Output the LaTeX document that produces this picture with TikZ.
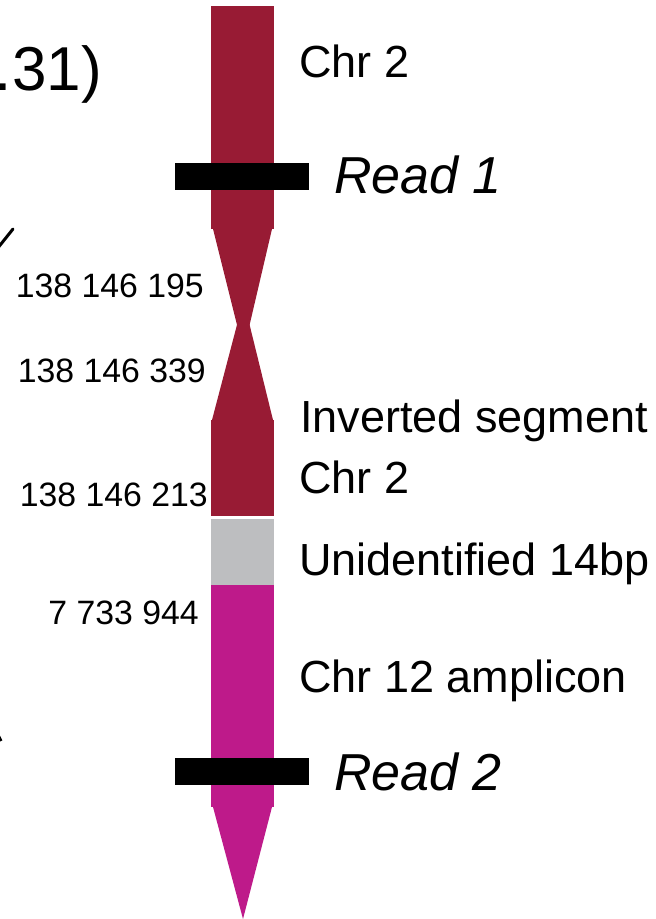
\documentclass[tikz,border=0pt]{standalone}
\usepackage{fontspec}
\setmainfont{Liberation Sans}
\definecolor{chrred}{HTML}{981B34}
\definecolor{chrmag}{HTML}{BE1A8A}
\definecolor{chrgray}{HTML}{BDBEC0}
\begin{document}
\begin{tikzpicture}[x=1pt,y=-1pt,
  lbl/.style={anchor=base west,inner sep=0pt,font=\fontsize{45}{52}\selectfont},
  readlbl/.style={anchor=base west,inner sep=0pt,font=\fontsize{52}{60}\selectfont\itshape},
  num/.style={anchor=base east,inner sep=0pt,font=\fontsize{33.8}{40}\selectfont},
  readbar/.style={fill=black}]
\useasboundingbox (0,0) rectangle (656,919);
\clip (0,0) rectangle (656,919);
% chromosome bar
\fill[chrred] (211,6) rectangle (274,229);
\fill[chrred] (213,229) -- (272,229) -- (243.5,351) -- cycle;
\fill[chrred] (212,420) -- (273,420) -- (243.5,300) -- cycle;
\fill[chrred] (211,420) rectangle (274,516);
\fill[chrgray] (211,519) rectangle (274,585);
\fill[chrmag] (211,585) rectangle (274,807);
\fill[chrmag] (213,807) -- (272,807) -- (243,919) -- cycle;
% reads
\fill[readbar] (175,163) rectangle (309,190);
\fill[readbar] (175,758) rectangle (309,785);
% labels
\node[lbl] (chr2) at (299,77) {Chr 2};
\node[readlbl] (read1) at (334,193) {Read 1};
\node[readlbl] (read2) at (334,790) {Read 2};
\node[lbl] (inv) at (300,432) {Inverted segment};
\node[lbl] (invchr) at (299,493) {Chr 2};
\node[lbl] (unid) at (299,575) {Unidentified 14bp};
\node[lbl] (amp) at (299,692) {Chr 12 amplicon};
\node[num] (n1) at (204,297) {138 146 195};
\node[num] (n2) at (206,382) {138 146 339};
\node[num] (n3) at (208,506) {138 146 213};
\node[num] (n4) at (199,624) {7 733 944};
\node[anchor=base east,inner sep=0pt,font=\fontsize{62}{70}\selectfont] (title) at (102,90) {.31)};
% cut-off strokes at the left edge
\draw[line width=3pt,line cap=round] (-3,249) -- (13,229);
\draw[line width=3pt] (-3,733) -- (1,741);
\end{tikzpicture}
\end{document}
